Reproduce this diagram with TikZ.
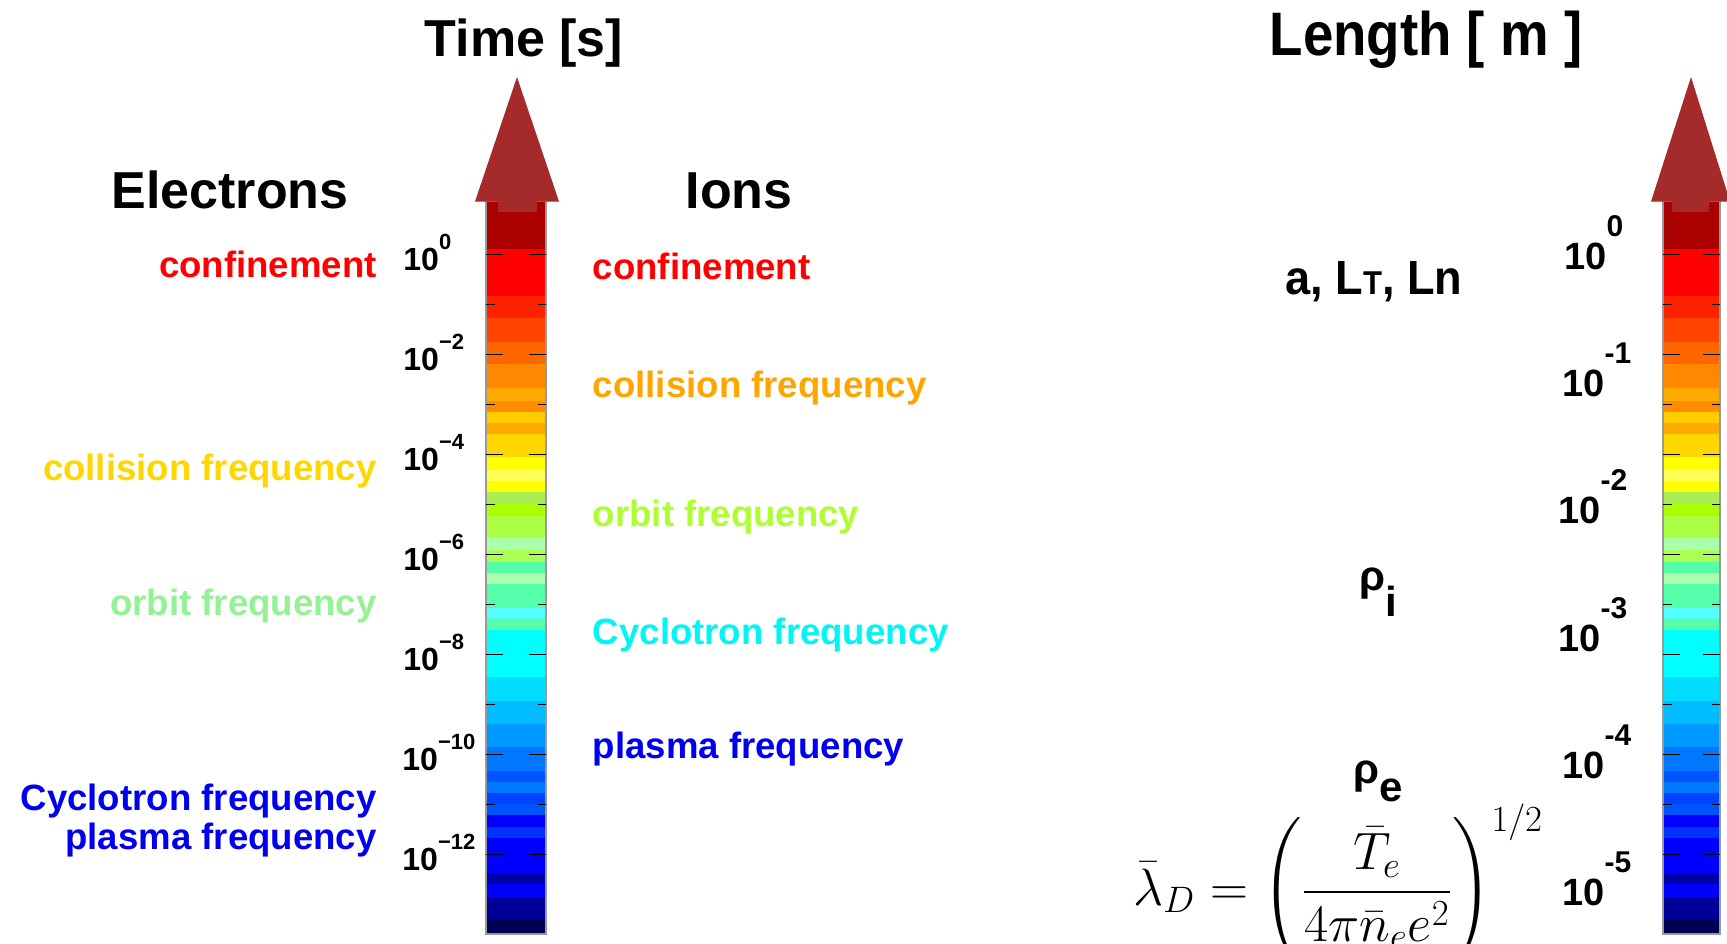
\RequirePackage{fix-cm}
\documentclass[tikz,border=0pt]{standalone}
\usepackage{fontspec}
\setmainfont{Liberation Sans}
\usepackage{amsmath}
\newcommand{\fsz}[1]{\fontsize{#1}{#1}\selectfont}
\definecolor{arrowred}{HTML}{A52A2A}
\definecolor{lblred}{HTML}{FF0000}
\definecolor{lblgold}{HTML}{FFD700}
\definecolor{lblpale}{HTML}{94F294}
\definecolor{lblblue}{HTML}{0000EE}
\definecolor{lblorange}{HTML}{FFA500}
\definecolor{lblyg}{HTML}{ADFF2F}
\definecolor{lblcyan}{HTML}{00F5F5}
\def\bandlist{201.5/249.2/AA0000,249.2/295.7/FF0000,295.7/318.2/FF2200,318.2/341.7/FF4400,341.7/364.1/FF6600,364.1/387.7/FF8800,387.7/400.6/FFAA00,400.6/411.8/FF8C00,411.8/423.0/FFCC00,423.0/434.2/FFAA00,434.2/456.6/FFD700,456.6/469.5/FFFF00,469.5/480.7/FFFF55,480.7/491.9/FFFF00,491.9/504.3/AAEE55,504.3/515.5/AAFF00,515.5/537.9/AAFF44,537.9/550.2/AAFFAA,550.2/562.0/AAFF55,562.0/573.2/55FFAA,573.2/584.4/AAFFAA,584.4/608.0/55FFAA,608.0/619.2/55FFFF,619.2/630.4/55FFAA,630.4/676.9/00FFFF,676.9/700.5/00DDFF,700.5/724.0/00BBFF,724.0/747.0/0099FF,747.0/770.5/0077FF,770.5/781.8/0055FF,781.8/793.0/0077FF,793.0/804.2/0044FF,804.2/815.4/0055FF,815.4/826.6/0000FF,826.6/837.8/0033FF,837.8/873.2/0000FF,873.2/884.4/0000AA,884.4/896.7/0000FF,896.7/919.1/000099,919.1/934.0/000055}
% #1 bar left, #2 bar right, #3 head left, #4 head right, #5 tip x, #6 neck left, #7 neck right
\newcommand{\colorbarat}[7]{%
  \foreach \ya/\yb/\hx in \bandlist {\definecolor{bandc}{HTML}{\hx}\fill[bandc] (#1,\ya) rectangle (#2,\yb);}
  \draw[gray!80, line width=0.6pt] (#1,201.5) rectangle (#2,934);
  \foreach \k in {0,2,...,12} {\draw[tickline] (#1,254+50*\k) -- ++(17,0); \draw[tickline] (#2,254+50*\k) -- ++(-17,0);}
  \foreach \k in {1,3,...,11} {\draw[tickline] (#1,254+50*\k) -- ++(9,0); \draw[tickline] (#2,254+50*\k) -- ++(-8,0);}
  \fill[arrowred] (#6,200) rectangle (#7,211.6);
  \fill[arrowred] (#3,201.5) -- (#5,77) -- (#4,201.5) -- cycle;
}
\newcommand{\tlabL}[1]{10\raisebox{10.3pt}{\fsz{11}#1}}
\newcommand{\tlabR}[1]{10\raisebox{16.5pt}{\fsz{15}#1}}
\begin{document}
\begin{tikzpicture}[x=0.5pt,y=-0.5pt,
  tickline/.style={black, line width=0.5pt},
  title/.style={font=\bfseries\fsz{26}, inner sep=0pt, anchor=base},
  elab/.style={font=\bfseries\fsz{18.3}, inner sep=0pt, anchor=base east},
  ilab/.style={font=\bfseries\fsz{18.3}, inner sep=0pt, anchor=base west},
  ltick/.style={font=\bfseries\fsz{16}, inner sep=0pt, anchor=base west},
  rtick/.style={font=\bfseries\fsz{19}, inner sep=0pt, anchor=base west},
  rlab/.style={font=\bfseries\fsz{21}, inner sep=0pt, anchor=base west}]
\useasboundingbox (0,0) rectangle (1727,943);
\clip (0,0) rectangle (1727,943);
\fill[white] (0,0) rectangle (1727,943);

% colour bars
\colorbarat{486}{546}{475}{559}{517}{497.7}{536.7}
\colorbarat{1663}{1720}{1651}{1730}{1691}{1671.7}{1709.3}

% titles
\node[title] (time) at (524,56) {Time [s]};
\node[title] (electrons) at (230,208) {Electrons};
\node[title] (ions) at (739,208) {Ions};
\node[title, font=\bfseries\fsz{30.7}] (length) at (1426,55) {\scalebox{0.89}[1]{Length [ m ]}};

% electron labels
\node[elab, text=lblred] (econf) at (377,277.5) {confinement};
\node[elab, text=lblgold] (ecoll) at (377,480.7) {collision frequency};
\node[elab, text=lblpale] (eorb) at (377,615) {orbit frequency};
\node[elab, text=lblblue] (ecyc) at (377,810) {Cyclotron frequency};
\node[elab, text=lblblue] (eplas) at (377,849.3) {plasma frequency};

% ion labels
\node[ilab, text=lblred] (iconf) at (592.5,279.3) {confinement};
\node[ilab, text=lblorange] (icoll) at (592.5,397.7) {collision frequency};
\node[ilab, text=lblyg] (iorb) at (592.5,526.6) {orbit frequency};
\node[ilab, text=lblcyan] (icyc) at (592.5,644.3) {Cyclotron frequency};
\node[ilab, text=lblblue] (iplas) at (592.5,758.2) {plasma frequency};

% time ticks
\node[ltick] (t0) at (403,270) {\tlabL{0}};
\node[ltick] (t2) at (403,370) {\tlabL{−2}};
\node[ltick] (t4) at (403,470) {\tlabL{−4}};
\node[ltick] (t6) at (403,570) {\tlabL{−6}};
\node[ltick] (t8) at (403,670) {\tlabL{−8}};
\node[ltick] (t10) at (402,770) {\tlabL{−10}};
\node[ltick] (t12) at (402,870) {\tlabL{−12}};

% length ticks
\node[rtick] (l0) at (1564,269.3) {\tlabR{0}};
\node[rtick] (l1) at (1562,396.6) {\tlabR{-1}};
\node[rtick] (l2) at (1558,523.9) {\tlabR{-2}};
\node[rtick] (l3) at (1558,651.2) {\tlabR{-3}};
\node[rtick] (l4) at (1562,778.5) {\tlabR{-4}};
\node[rtick] (l5) at (1562,905.8) {\tlabR{-5}};

% length labels
\node[rlab, font=\bfseries\fsz{24}] (aLL) at (1285,294) {\scalebox{0.94}[1]{a, L{\fsz{16.5}T}, Ln}};
\node[rlab] (rhoi) at (1359,590) {ρ\raisebox{-13pt}{i}};
\node[rlab] (rhoe) at (1353,783) {ρ\raisebox{-9pt}{e}};
\node[inner sep=0pt, anchor=base west] (debye) at (1133,905)
  {\fsz{26.3}$\displaystyle \bar{\lambda}_D=\left(\frac{\bar{T}_e}{4\pi\bar{n}_e e^2}\right)^{1/2}$};
\end{tikzpicture}
\end{document}
